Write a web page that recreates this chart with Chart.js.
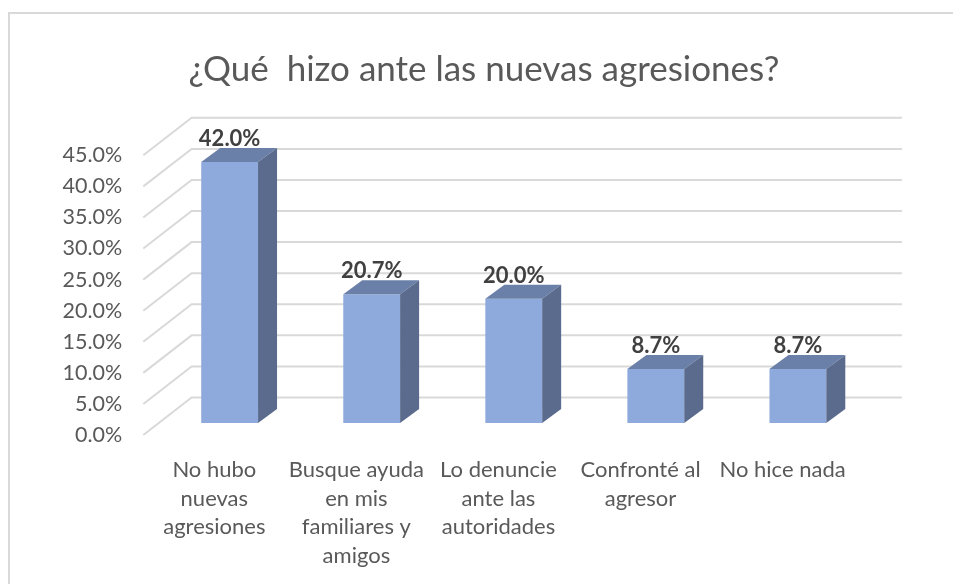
<!DOCTYPE html>
<html>
<head>
<meta charset="utf-8">
<script src="https://cdn.jsdelivr.net/npm/chart.js@4"></script>
<style>
  html, body { margin: 0; padding: 0; background: #fff; }
  #wrap { width: 953px; height: 584px; position: relative; }
</style>
</head>
<body>
<div id="wrap"><canvas id="myChart"></canvas></div>
<script>
// data
const chartTitle = '¿Qué  hizo ante las nuevas agresiones?';
const categories = [
  ['No hubo', 'nuevas', 'agresiones'],
  ['Busque ayuda', 'en mis', 'familiares y', 'amigos'],
  ['Lo denuncie', 'ante las', 'autoridades'],
  ['Confronté al', 'agresor'],
  ['No hice nada']
];
const percentages = [42.0, 20.7, 20.0, 8.7, 8.7];
const yMin = 0, yMax = 45, yStep = 5;

// fake 3d look: offsets from the bar-front plane
const FRONT = {dx: -15.3, dy: 12};   // axis / label plane
const BACK = {dx: 33, dy: -25.5};    // back wall
const BAR_DEPTH = {dx: 19, dy: -14};
const FONT = 'Lato, "Open Sans", sans-serif';

const walls3d = {
  id: 'walls3d',
  beforeDatasetsDraw(chart) {
    const {ctx, chartArea: a} = chart;
    const y = chart.scales.y;
    ctx.save();
    ctx.strokeStyle = '#d9d9d9';
    ctx.lineWidth = 2;
    y.ticks.forEach(t => {
      const py = y.getPixelForValue(t.value);
      ctx.beginPath();
      ctx.moveTo(a.left + FRONT.dx, py + FRONT.dy);
      ctx.lineTo(a.left + BACK.dx, py + BACK.dy);
      ctx.lineTo(a.right + BACK.dx, py + BACK.dy);
      ctx.stroke();
    });
    ctx.restore();
  },
  afterDatasetsDraw(chart) {
    const {ctx, chartArea: a} = chart;
    const meta = chart.getDatasetMeta(0);
    const y = chart.scales.y;
    const x = chart.scales.x;
    ctx.save();
    meta.data.forEach((bar, i) => {
      const l = bar.x - bar.width / 2, r = bar.x + bar.width / 2;
      const top = bar.y, base = bar.base;
      const dx = BAR_DEPTH.dx, dy = BAR_DEPTH.dy;
      // top face
      ctx.fillStyle = '#6b80a9';
      ctx.beginPath();
      ctx.moveTo(l, top); ctx.lineTo(r, top);
      ctx.lineTo(r + dx, top + dy); ctx.lineTo(l + dx, top + dy);
      ctx.closePath(); ctx.fill();
      // side face
      ctx.fillStyle = '#5a6b8d';
      ctx.beginPath();
      ctx.moveTo(r, top); ctx.lineTo(r + dx, top + dy);
      ctx.lineTo(r + dx, base + dy); ctx.lineTo(r, base);
      ctx.closePath(); ctx.fill();
      // value label
      ctx.fillStyle = '#404040';
      ctx.font = 'bold 22px ' + FONT;
      ctx.textAlign = 'center';
      ctx.textBaseline = 'alphabetic';
      ctx.fillText(percentages[i].toFixed(1) + '%', bar.x, top + dy - 2);
    });

    // y tick labels on the front plane
    ctx.fillStyle = '#595959';
    ctx.font = '21.5px ' + FONT;
    ctx.textAlign = 'right';
    ctx.textBaseline = 'middle';
    y.ticks.forEach(t => {
      ctx.fillText(t.value.toFixed(1) + '%', a.left + FRONT.dx - 21, y.getPixelForValue(t.value) + FRONT.dy);
    });

    // category labels
    ctx.font = '22px ' + FONT;
    ctx.textAlign = 'center';
    const y0 = y.getPixelForValue(0) + FRONT.dy + 35;
    categories.forEach((lines, i) => {
      const cx = x.getPixelForValue(i) + FRONT.dx;
      lines.forEach((s, k) => ctx.fillText(s, cx, y0 + k * 28.5));
    });

    // title
    ctx.font = '35px ' + FONT;
    ctx.textBaseline = 'alphabetic';
    ctx.fillText(chartTitle, 484, 81);

    // chart border
    ctx.strokeStyle = '#d9d9d9';
    ctx.lineWidth = 2;
    ctx.strokeRect(9, 13, 950, 600);
    ctx.restore();
  }
};

const data = {
  labels: categories,
  datasets: [{
    data: percentages,
    backgroundColor: '#8eaadc',
    borderWidth: 0,
    barPercentage: 0.4,
    categoryPercentage: 1
  }]
};

const config = {
  type: 'bar',
  data,
  options: {
    responsive: true,
    maintainAspectRatio: false,
    animation: false,
    layout: {padding: {left: 158.6, right: 84.1, top: 143.3, bottom: 161}},
    scales: {
      x: {display: false},
      y: {display: false, min: yMin, max: yMax, ticks: {stepSize: yStep}}
    },
    plugins: {
      legend: {display: false},
      tooltip: {enabled: false}
    }
  },
  plugins: [walls3d]
};

const myChart = new Chart(document.getElementById('myChart'), config);
</script>
</body>
</html>
